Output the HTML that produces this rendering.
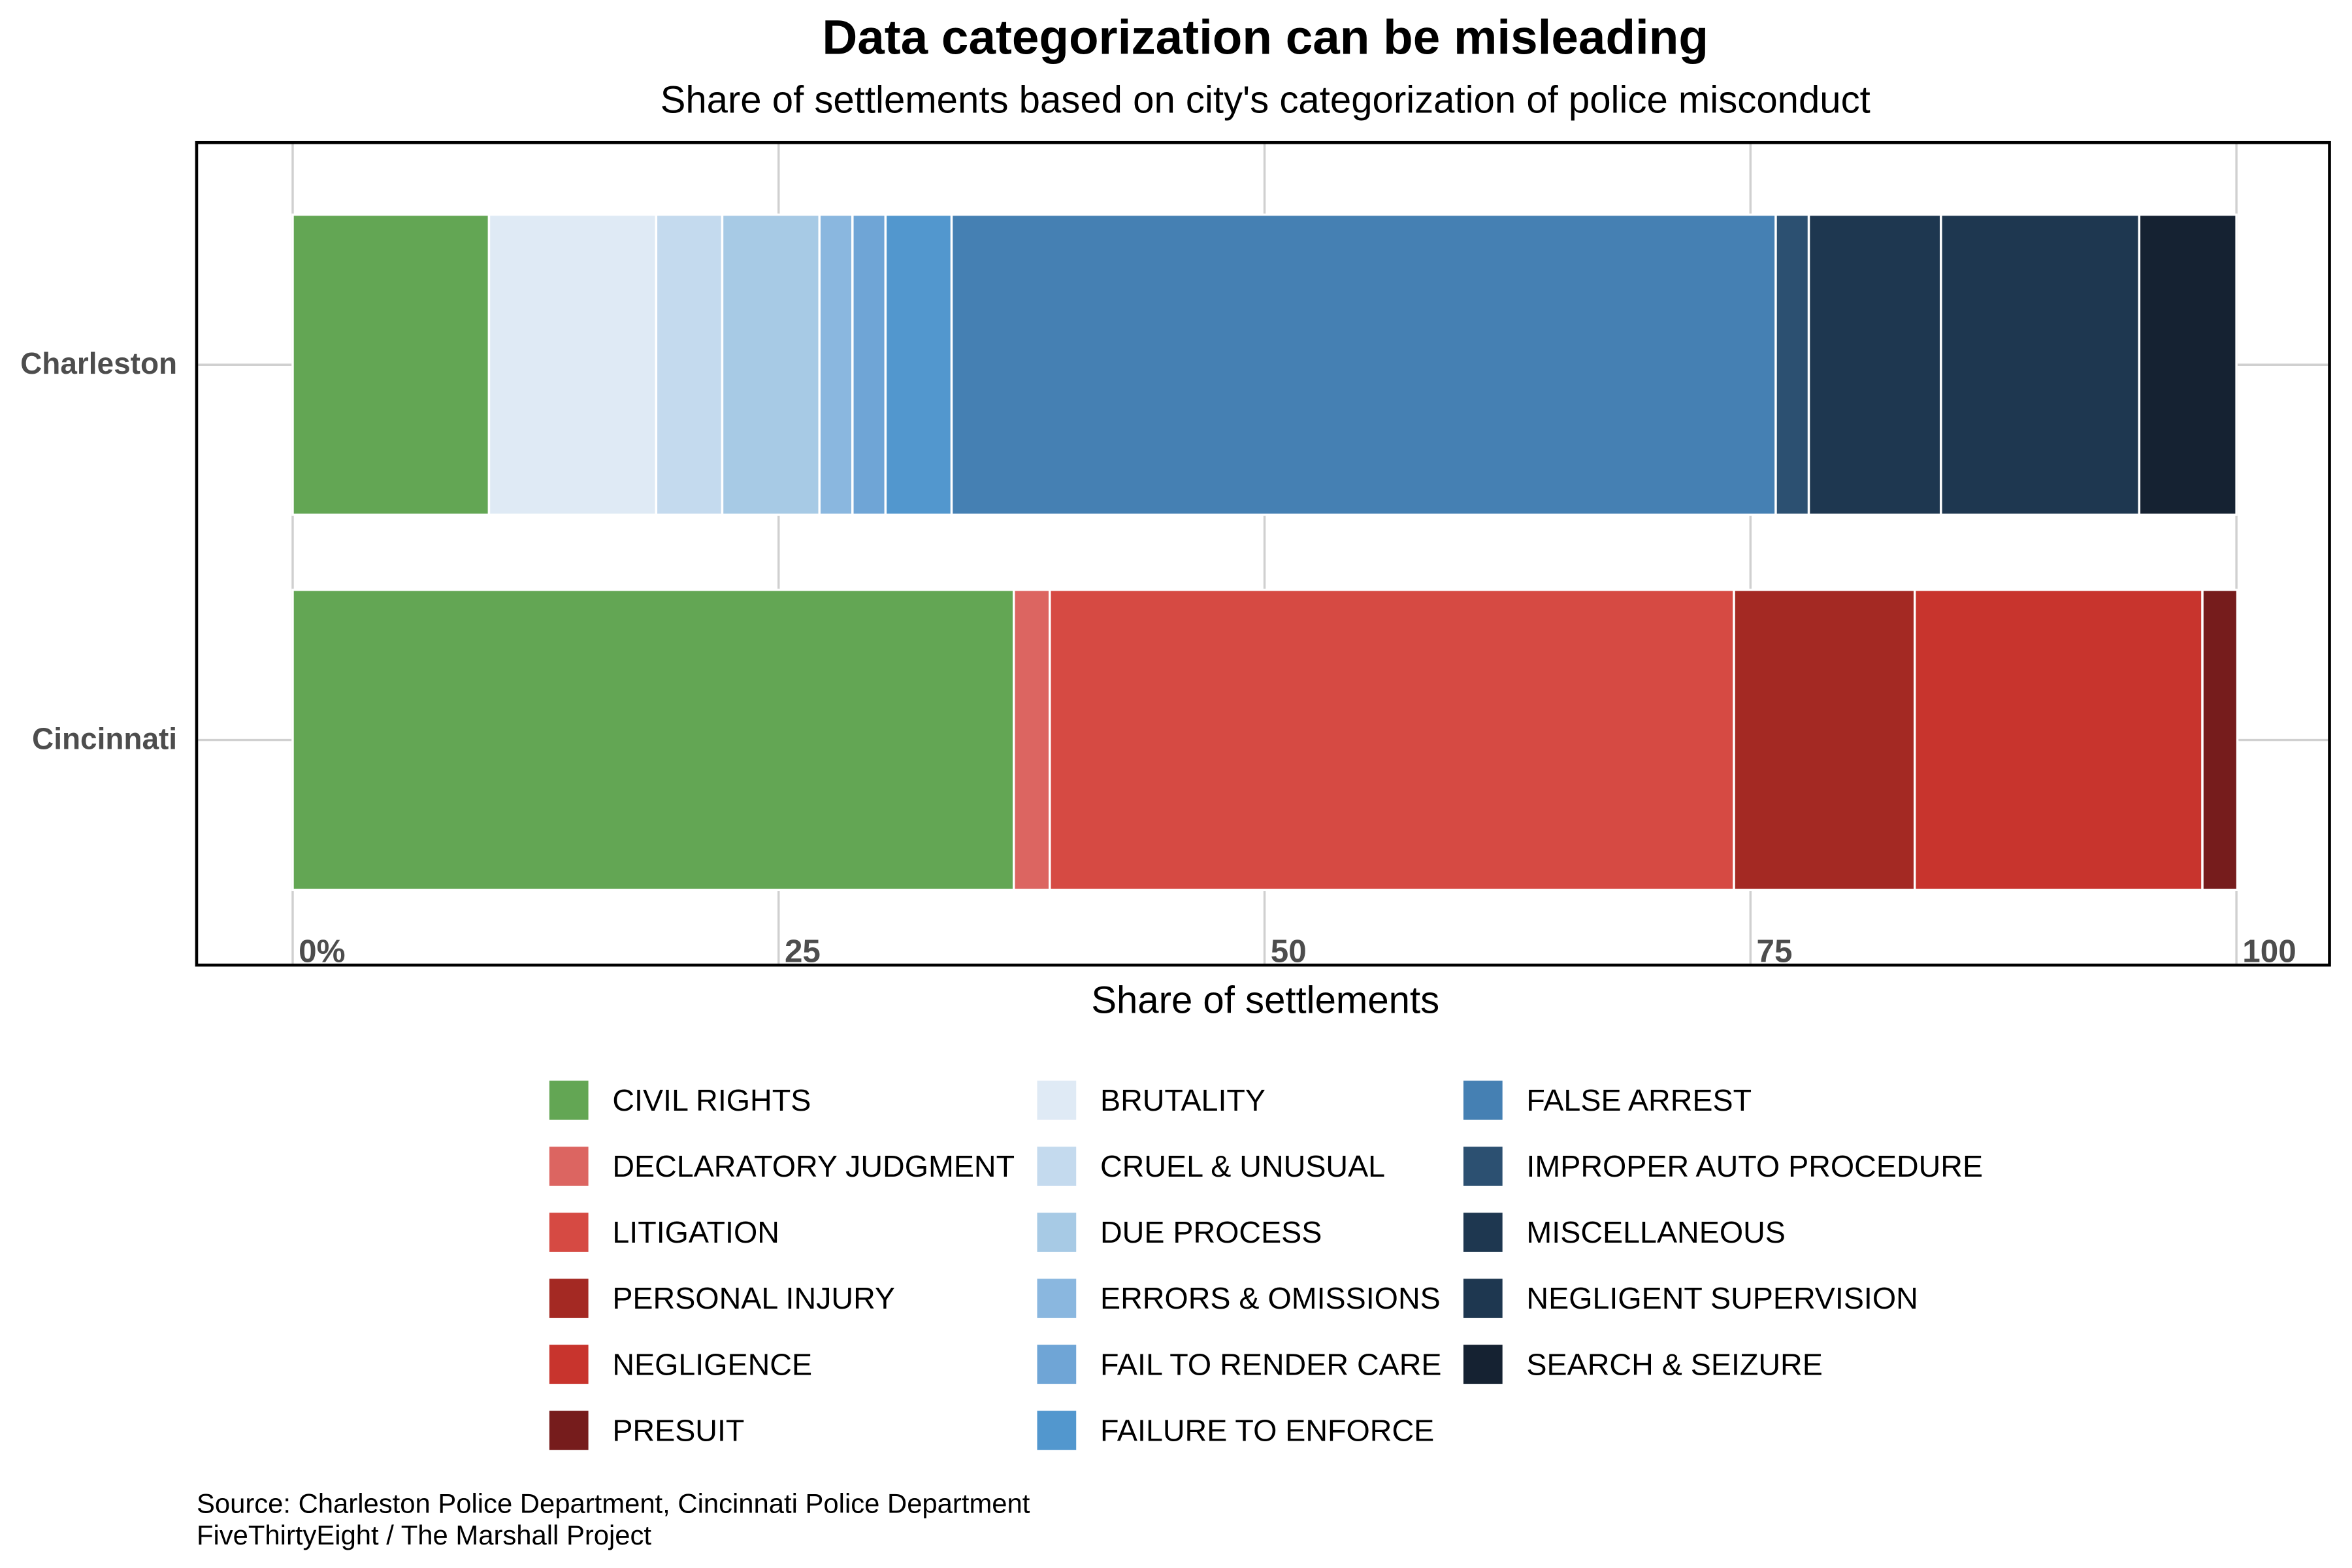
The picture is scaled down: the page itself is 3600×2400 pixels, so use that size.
<!DOCTYPE html>
<html><head><meta charset="utf-8"><style>
html,body{margin:0;padding:0;background:#fff;}
svg{display:block;font-family:"Liberation Sans",Arial,sans-serif;}
</style></head><body>
<svg id="chart" width="3600" height="2400" viewBox="0 0 1567 1044.7" preserveAspectRatio="none" xmlns="http://www.w3.org/2000/svg">
<rect width="1570" height="1050" fill="#fff"/>
<text x="843" y="36" text-anchor="middle" font-size="32.5" font-weight="bold">Data categorization can be misleading</text>
<text x="843" y="75" text-anchor="middle" font-size="25.3">Share of settlements based on city's categorization of police misconduct</text>
<g id="grid"></g>
<g id="bars"></g>
<rect x="131" y="95" width="1421" height="548" fill="none" stroke="#000" stroke-width="2"/>
<g id="xticks"></g>
<g id="yticks"></g>
<text x="843" y="675" text-anchor="middle" font-size="25.3">Share of settlements</text>
<g id="legend"></g>
<text x="131" y="1008" font-size="18.2">Source: Charleston Police Department, Cincinnati Police Department</text>
<text x="131" y="1029" font-size="18.2">FiveThirtyEight / The Marshall Project</text>
</svg>
<script>
const cities = ["Charleston", "Cincinnati"];
const charlestonCats = ["CIVIL RIGHTS","BRUTALITY","CRUEL & UNUSUAL","DUE PROCESS","ERRORS & OMISSIONS","FAIL TO RENDER CARE","FAILURE TO ENFORCE","FALSE ARREST","IMPROPER AUTO PROCEDURE","MISCELLANEOUS","NEGLIGENT SUPERVISION","SEARCH & SEIZURE"];
const charlestonValues = [10.1, 8.6, 3.4, 5.0, 1.7, 1.7, 3.4, 42.4, 1.7, 6.8, 10.2, 5.0];
const cincinnatiCats = ["CIVIL RIGHTS","DECLARATORY JUDGMENT","LITIGATION","PERSONAL INJURY","NEGLIGENCE","PRESUIT"];
const cincinnatiValues = [37.1, 1.85, 35.2, 9.3, 14.8, 1.8];
const xTicks = [0, 25, 50, 75, 100];
const xTickLabels = ["0%", "25", "50", "75", "100"];
const legendCats = ["CIVIL RIGHTS","DECLARATORY JUDGMENT","LITIGATION","PERSONAL INJURY","NEGLIGENCE","PRESUIT","BRUTALITY","CRUEL & UNUSUAL","DUE PROCESS","ERRORS & OMISSIONS","FAIL TO RENDER CARE","FAILURE TO ENFORCE","FALSE ARREST","IMPROPER AUTO PROCEDURE","MISCELLANEOUS","NEGLIGENT SUPERVISION","SEARCH & SEIZURE"];
const colors = {"CIVIL RIGHTS":"#63a654","DECLARATORY JUDGMENT":"#dc6561","LITIGATION":"#d64a43","PERSONAL INJURY":"#a42923","NEGLIGENCE":"#c8342d","PRESUIT":"#761c1c","BRUTALITY":"#dfeaf5","CRUEL & UNUSUAL":"#c4daee","DUE PROCESS":"#a7cae5","ERRORS & OMISSIONS":"#8ab7df","FAIL TO RENDER CARE":"#6fa5d6","FAILURE TO ENFORCE":"#5297ce","FALSE ARREST":"#4580b3","IMPROPER AUTO PROCEDURE":"#2c5071","MISCELLANEOUS":"#1e3750","NEGLIGENT SUPERVISION":"#1e3750","SEARCH & SEIZURE":"#152232"};

const NS = "http://www.w3.org/2000/svg";
const x = v => 195 + (1490 - 195) * v / 100;
const yCenter = i => 243 + i * 250;
const barH = 200;
function mk(tag, attrs, parent) {
  const e = document.createElementNS(NS, tag);
  for (const k in attrs) e.setAttribute(k, attrs[k]);
  parent.appendChild(e);
  return e;
}
const grid = document.getElementById('grid');
xTicks.forEach(t => {
  const l = mk('line', {x1: x(t), x2: x(t), y1: 96, y2: 642, stroke: '#d0d0d0', 'stroke-width': 1.5}, grid);
  
  
});
cities.forEach((c, i) => {
  const l = mk('line', {x1: 132, x2: 1551, y1: yCenter(i), y2: yCenter(i), stroke: '#d0d0d0', 'stroke-width': 1.5}, grid);
  
  
});
const bars = document.getElementById('bars');
[[charlestonCats, charlestonValues], [cincinnatiCats, cincinnatiValues]].forEach((pair, i) => {
  let acc = 0;
  pair[0].forEach((cat, j) => {
    const v = pair[1][j];
    const r = mk('rect', {x: x(acc), y: yCenter(i) - barH / 2, width: x(acc + v) - x(acc), height: barH, fill: colors[cat], stroke: '#fff', 'stroke-width': 1.5}, bars);
    
    
    acc += v;
  });
});
const xt = document.getElementById('xticks');
xTicks.forEach((t, i) => {
  const e = mk('text', {x: x(t) + 4, y: 641, 'font-size': 21.5, 'font-weight': 'bold', fill: '#4d4d4d'}, xt);
  e.textContent = xTickLabels[i];
  
  
});
const yt = document.getElementById('yticks');
cities.forEach((c, i) => {
  const e = mk('text', {x: 118, y: yCenter(i) + 6, 'text-anchor': 'end', 'font-size': 20, 'font-weight': 'bold', fill: '#4d4d4d'}, yt);
  e.textContent = c;
  
  
});
const lg = document.getElementById('legend');
const colX = [366, 691, 975];
legendCats.forEach((cat, k) => {
  const col = Math.floor(k / 6), row = k % 6;
  const g = mk('g', {}, lg);
  
  
  mk('rect', {x: colX[col], y: 720 + row * 44, width: 26, height: 26, fill: colors[cat]}, g);
  const t = mk('text', {x: colX[col] + 42, y: 740 + row * 44, 'font-size': 20.3}, g);
  t.textContent = cat;
});
</script>
</body></html>
